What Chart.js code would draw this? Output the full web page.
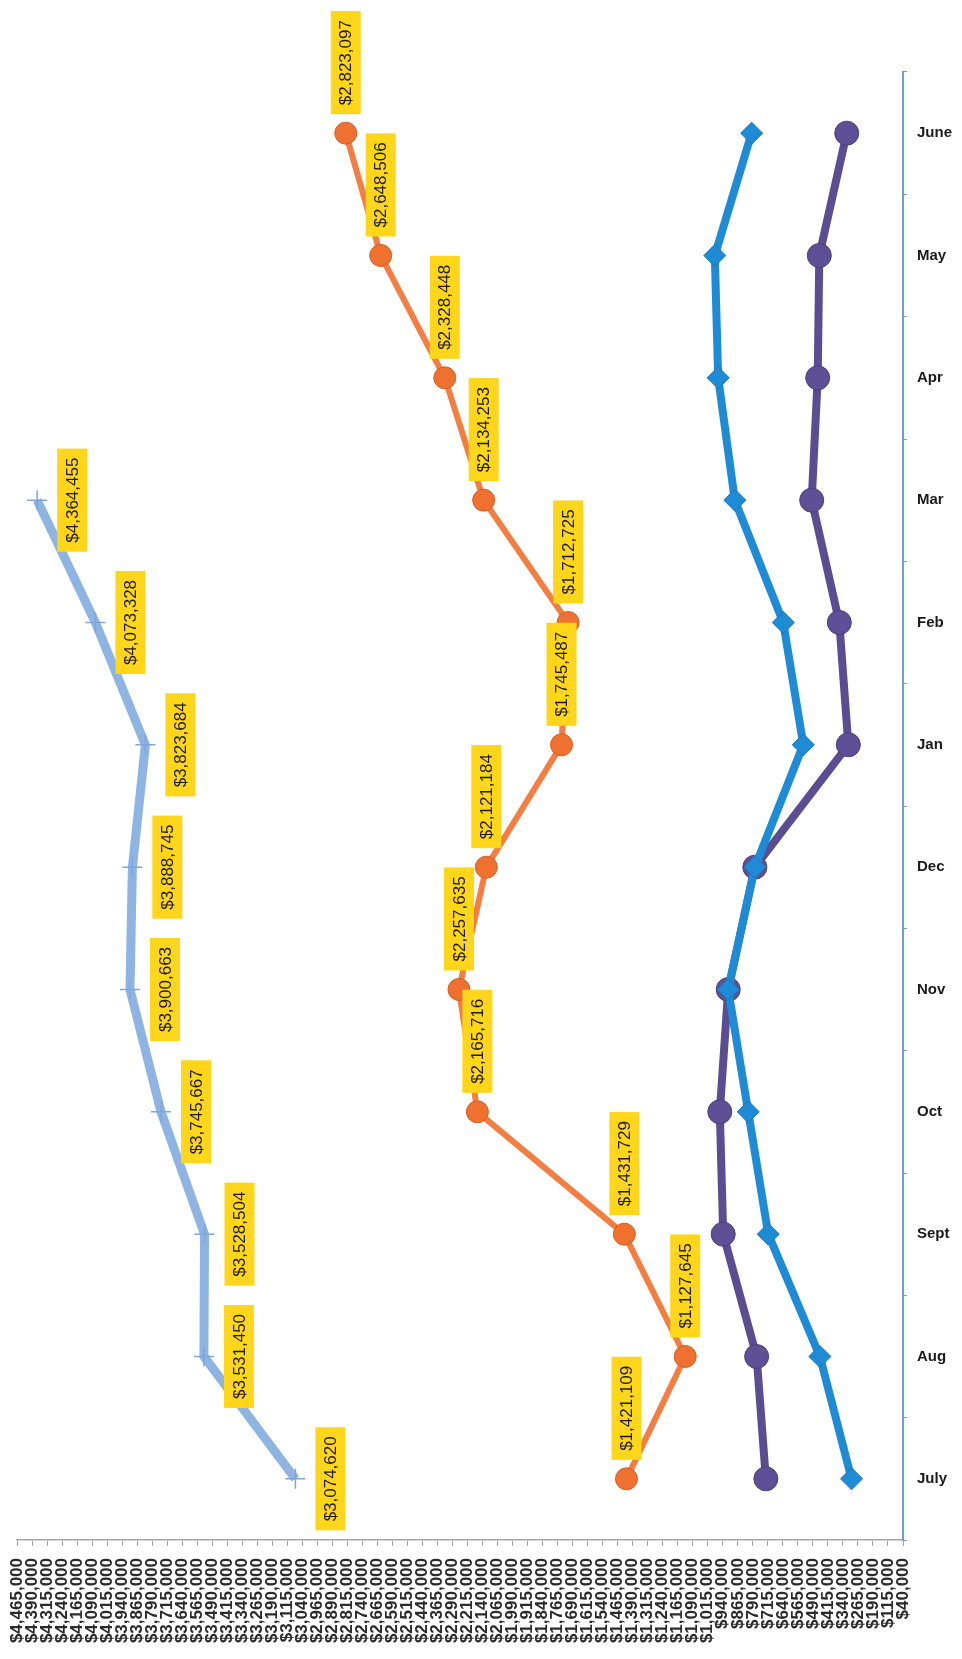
<!DOCTYPE html>
<html>
<head>
<meta charset="utf-8">
<script src="https://cdn.jsdelivr.net/npm/chart.js@4.4.1/dist/chart.umd.min.js"></script>
<style>
  html, body { margin: 0; padding: 0; background: #fff; }
  #wrap { width: 962px; height: 1659px; }
</style>
</head>
<body>
<div id="wrap"><canvas id="myChart" width="962" height="1659"></canvas></div>
<script>
// categories (July at the bottom, June at the top)
const months = ['July', 'Aug', 'Sept', 'Oct', 'Nov', 'Dec', 'Jan', 'Feb', 'Mar', 'Apr', 'May', 'June'];

// series values
const lightBlueVals = [3074620, 3531450, 3528504, 3745667, 3900663, 3888745, 3823684, 4073328, 4364455, null, null, null];
const orangeVals = [1421109, 1127645, 1431729, 2165716, 2257635, 2121184, 1745487, 1712725, 2134253, 2328448, 2648506, 2823097];
const blueVals = [297000, 455000, 713000, 813000, 913000, 780000, 538000, 638000, 880000, 963000, 980000, 796000];
const purpleVals = [725000, 771000, 938000, 955000, 913000, 780000, 313000, 358000, 496000, 466000, 458000, 321000];

// value axis range
const axisMin = 40000;
const axisMax = 4465000;
const axisStep = 75000;

const money = v => '$' + Math.round(v).toLocaleString('en-US');

// yellow value boxes, text turned on its side
const valueBoxes = {
    id: 'valueBoxes',
    afterDatasetsDraw(chart) {
        const ctx = chart.ctx;
        chart.data.datasets.forEach((ds, i) => {
            if (!ds.boxSide) return;
            const meta = chart.getDatasetMeta(i);
            meta.data.forEach((pt, j) => {
                const v = ds.data[j];
                if (v == null) return;
                const text = money(v);
                ctx.save();
                ctx.font = '17px "Liberation Sans", Arial, sans-serif';
                const boxH = ctx.measureText(text).width + 18;
                const boxW = 30;
                let cx, cy;
                if (ds.boxSide === 'up') {
                    cx = pt.x;
                    cy = pt.y - 19 - boxH / 2;
                } else {
                    cx = pt.x + 35;
                    cy = pt.y;
                }
                ctx.fillStyle = '#FFD61A';
                ctx.fillRect(cx - boxW / 2, cy - boxH / 2, boxW, boxH);
                ctx.translate(cx, cy);
                ctx.rotate(-Math.PI / 2);
                ctx.fillStyle = '#1a1a1a';
                ctx.textAlign = 'center';
                ctx.textBaseline = 'middle';
                ctx.fillText(text, 0, 1);
                ctx.restore();
            });
        });
    }
};

const ctx = document.getElementById('myChart').getContext('2d');

const myChart = new Chart(ctx, {
    type: 'line',
    data: {
        labels: months,
        datasets: [
            {
                data: lightBlueVals,
                boxSide: 'right',
                borderColor: '#8DB4E3',
                borderWidth: 9,
                pointStyle: 'cross',
                pointRadius: 10,
                pointBorderWidth: 1.5,
                pointBorderColor: '#7FA6DC',
                pointBackgroundColor: '#7FA6DC',
                spanGaps: false
            },
            {
                data: orangeVals,
                boxSide: 'up',
                borderColor: '#F57D3F',
                borderWidth: 6,
                pointStyle: 'circle',
                pointRadius: 11,
                pointBackgroundColor: '#F0712F',
                pointBorderColor: '#D65E22',
                pointBorderWidth: 1
            },
            {
                data: blueVals,
                borderColor: '#1E8BD6',
                borderWidth: 8,
                pointStyle: 'rectRot',
                pointRadius: 11,
                pointBackgroundColor: '#1E8BD6',
                pointBorderColor: '#1878BD',
                pointBorderWidth: 1
            },
            {
                data: purpleVals,
                borderColor: '#5B4D92',
                borderWidth: 8,
                pointStyle: 'circle',
                pointRadius: 12,
                pointBackgroundColor: '#5E5096',
                pointBorderColor: '#4A3E7E',
                pointBorderWidth: 1
            }
        ]
    },
    options: {
        responsive: false,
        animation: false,
        indexAxis: 'y',
        layout: { padding: { top: 72, left: 17, right: 0, bottom: 0 } },
        plugins: {
            legend: { display: false },
            tooltip: { enabled: false }
        },
        scales: {
            x: {
                type: 'linear',
                position: 'bottom',
                reverse: true,
                min: axisMin,
                max: axisMax,
                afterFit: s => { s.height = 119; },
                border: { color: '#A6A6A6', width: 1.5 },
                grid: { drawOnChartArea: false, tickLength: 6, color: '#A6A6A6' },
                ticks: {
                    stepSize: axisStep,
                    autoSkip: false,
                    minRotation: 90,
                    maxRotation: 90,
                    padding: 12,
                    color: '#2b2b2b',
                    font: { family: '"Liberation Sans", Arial, sans-serif', size: 17, weight: 'bold' },
                    callback: v => money(v)
                }
            },
            y: {
                type: 'category',
                position: 'right',
                reverse: true,
                offset: true,
                afterFit: s => { s.width = 59; },
                border: { color: '#6F9ED6', width: 2 },
                grid: { drawOnChartArea: false, offset: true, tickLength: 4, color: '#6F9ED6' },
                ticks: {
                    padding: 10,
                    color: '#1a1a1a',
                    font: { family: '"Liberation Sans", Arial, sans-serif', size: 15, weight: 'bold' }
                }
            }
        }
    },
    plugins: [valueBoxes]
});
</script>
</body>
</html>
